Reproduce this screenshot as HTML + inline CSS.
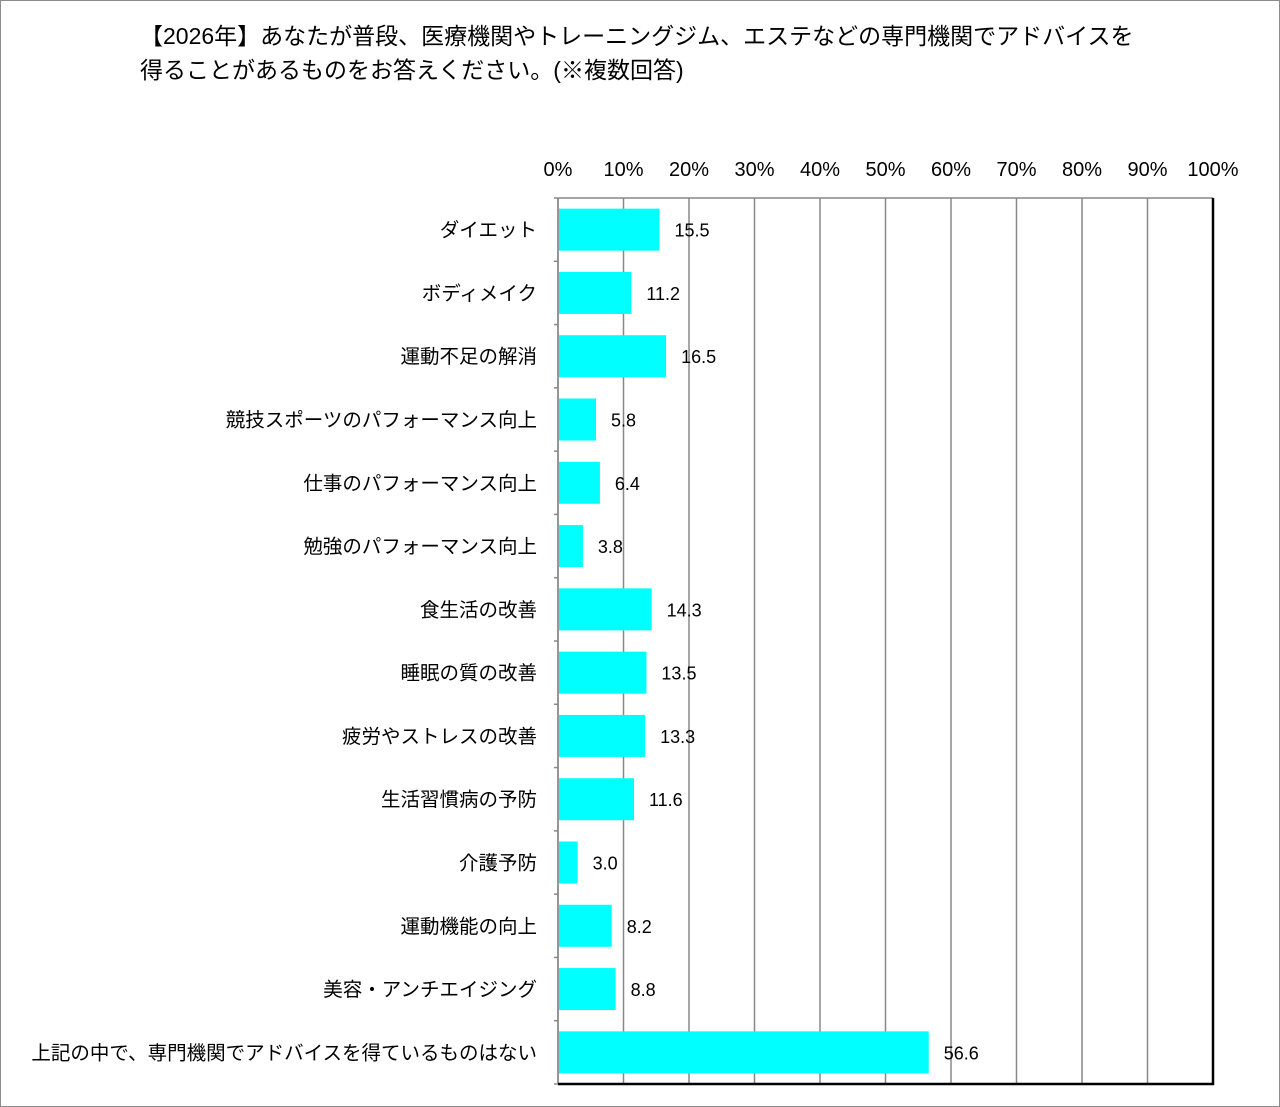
<!DOCTYPE html>
<html><head><meta charset="utf-8"><style>
html,body{margin:0;padding:0;background:#fff}
body{width:1280px;height:1107px;position:relative;overflow:hidden;font-family:"Liberation Sans","Noto Sans CJK JP",sans-serif}
#frame{position:absolute;left:0;top:0;width:1278px;height:1105px;border:1px solid #8c8c8c}
#title{position:absolute;left:140px;top:19px;font-size:23px;line-height:34px;color:#000;white-space:nowrap}
svg{position:absolute;left:0;top:0}
</style></head><body>
<div id="frame"></div>
<div id="title">【2026年】あなたが普段、医療機関やトレーニングジム、エステなどの専門機関でアドバイスを<br>得ることがあるものをお答えください。(※複数回答)</div>
<svg id="chart" width="1280" height="1107"></svg>
<script>
const categories=["ダイエット","ボディメイク","運動不足の解消","競技スポーツのパフォーマンス向上","仕事のパフォーマンス向上","勉強のパフォーマンス向上","食生活の改善","睡眠の質の改善","疲労やストレスの改善","生活習慣病の予防","介護予防","運動機能の向上","美容・アンチエイジング","上記の中で、専門機関でアドバイスを得ているものはない"];
const values=[15.5,11.2,16.5,5.8,6.4,3.8,14.3,13.5,13.3,11.6,3.0,8.2,8.8,56.6];
const tickValues=[0,10,20,30,40,50,60,70,80,90,100];
const tickLabels=["0%","10%","20%","30%","40%","50%","60%","70%","80%","90%","100%"];
const NS="http://www.w3.org/2000/svg";
const svg=document.getElementById('chart');
const X0=558,X1=1213,Y0=198,Y1=1084;
const x=v=>X0+(v/100)*(X1-X0);
const band=(Y1-Y0)/categories.length;
const yc=i=>Y0+band*(i+0.5);
function mk(t,a){const e=document.createElementNS(NS,t);for(const k in a)e.setAttribute(k,a[k]);svg.appendChild(e);return e;}
tickValues.forEach((t,i)=>{
  const g=mk('line',{x1:x(t),x2:x(t),y1:Y0,y2:Y1,stroke:'#888','stroke-width':1.5});
  
  
  const l=mk('text',{x:x(t),y:176,'font-size':20,'text-anchor':'middle',fill:'#000'});
  l.textContent=tickLabels[i];
  
  
});
const topBorder=mk('line',{x1:X0,x2:X1,y1:Y0,y2:Y0,stroke:'#888','stroke-width':1.5});


for(let i=0;i<=categories.length;i++){
  const tk=mk('line',{x1:X0-4,x2:X0,y1:Y0+band*i,y2:Y0+band*i,stroke:'#888','stroke-width':1.5});
  
  
}
categories.forEach((c,i)=>{
  const b=mk('rect',{x:X0+1,y:yc(i)-21,width:x(values[i])-X0-1,height:42,fill:'#00ffff'});
  
  
  const v=mk('text',{x:x(values[i])+15,y:yc(i)+7,'font-size':18,fill:'#000'});
  v.textContent=values[i].toFixed(1);
  
  
  const l=mk('text',{x:537,y:yc(i)+7,'font-size':19.5,'text-anchor':'end',fill:'#000'});
  l.textContent=c;
  
  
});
const la=mk('line',{x1:X0,x2:X0,y1:Y0,y2:Y1,stroke:'#888','stroke-width':1.5});


const rb=mk('path',{d:`M${X1},${Y0} V${Y1} H${X0}`,fill:'none',stroke:'#000','stroke-width':2.5});


</script>
</body></html>
